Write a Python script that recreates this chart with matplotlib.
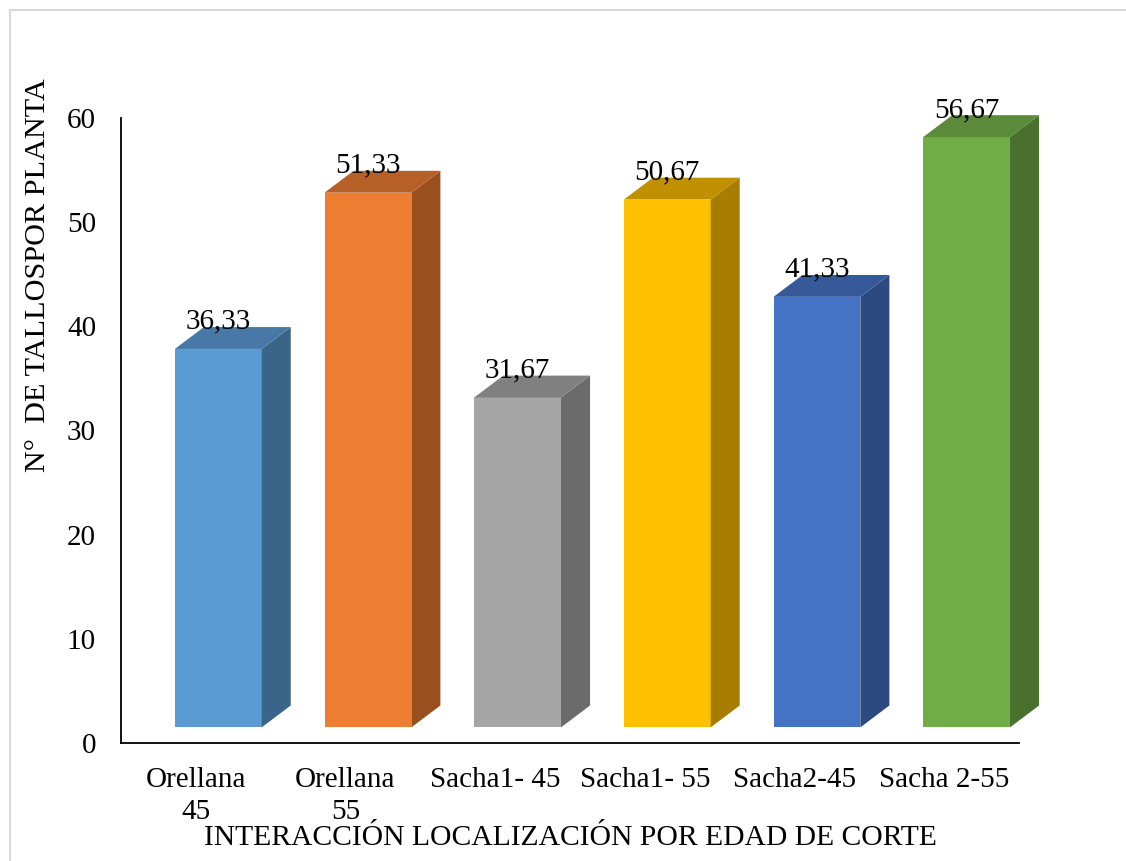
import numpy as np
import matplotlib.pyplot as plt
from matplotlib.patches import Polygon, Rectangle

plt.rcParams['font.family'] = ['Liberation Serif', 'DejaVu Serif']
plt.rcParams['font.size'] = 21

categorias = ['Orellana\n45', 'Orellana\n55', 'Sacha1- 45', 'Sacha1- 55', 'Sacha2-45', 'Sacha 2-55']
tallos = [36.33, 51.33, 31.67, 50.67, 41.33, 56.67]
etiquetas = ['36,33', '51,33', '31,67', '50,67', '41,33', '56,67']

# front / side / top colours for each column
frente = ['#5B9BD5', '#ED7D31', '#A5A5A5', '#FFC000', '#4472C4', '#70AD47']
lado = ['#3A6488', '#9A4F1F', '#6B6B6B', '#A67D00', '#2C4A80', '#4A702E']
techo = ['#4878A8', '#B65F27', '#808080', '#C09000', '#36599A', '#5B8A3A']

# 3D column geometry (x in category units, y in data units)
x_off = -0.14
ancho = 0.58
dx = 0.194
dy = 2.1
piso = 1.5

fig = plt.figure(figsize=(11.26, 8.61), dpi=100)
ax = fig.add_axes([121 / 1126, 1 - 743 / 861, 898 / 1126, (743 - 118) / 861])

for i, v in enumerate(tallos):
    x0 = i + x_off
    x1 = x0 + ancho
    y0 = piso
    y1 = piso + v
    ax.add_patch(Rectangle((x0, y0), ancho, v, facecolor=frente[i],
                           edgecolor='none', clip_on=False))
    ax.add_patch(Polygon([(x1, y0), (x1 + dx, y0 + dy), (x1 + dx, y1 + dy), (x1, y1)],
                         closed=True, facecolor=lado[i], edgecolor='none', clip_on=False))
    ax.add_patch(Polygon([(x0, y1), (x0 + dx, y1 + dy), (x1 + dx, y1 + dy), (x1, y1)],
                         closed=True, facecolor=techo[i], edgecolor='none', clip_on=False))
    ax.text(x0 + ancho / 2, y1 + 2.6, etiquetas[i], ha='center', va='center',
            fontsize=21, color='black')

ax.set_xlim(-0.5, 5.5)
ax.set_ylim(0, 60)
ax.set_yticks(np.arange(0, 61, 10))
ax.set_xticks(np.arange(len(categorias)))
ax.set_xticklabels(categorias, linespacing=1.3)
ax.tick_params(axis='both', length=0)
ax.tick_params(axis='y', pad=18)
ax.tick_params(axis='x', pad=17)

for s in ['top', 'right']:
    ax.spines[s].set_visible(False)
for s in ['left', 'bottom']:
    ax.spines[s].set_linewidth(1.3)
    ax.spines[s].set_color('black')

fig.text(38 / 1126, 1 - 275 / 861, 'N°  DE TALLOSPOR PLANTA', rotation=90,
         ha='center', va='center', fontsize=21.8)
fig.text(570 / 1126, 1 - 838 / 861, 'INTERACCIÓN LOCALIZACIÓN POR EDAD DE CORTE',
         ha='center', va='center', fontsize=21.3)

# outer chart frame
fig.add_artist(Rectangle((10 / 1126, -0.05), 1.2, 1 - 10 / 861 + 0.05,
                         transform=fig.transFigure, fill=False,
                         edgecolor='#d9d9d9', linewidth=1.5))

fig.savefig('out.png', dpi=100)
